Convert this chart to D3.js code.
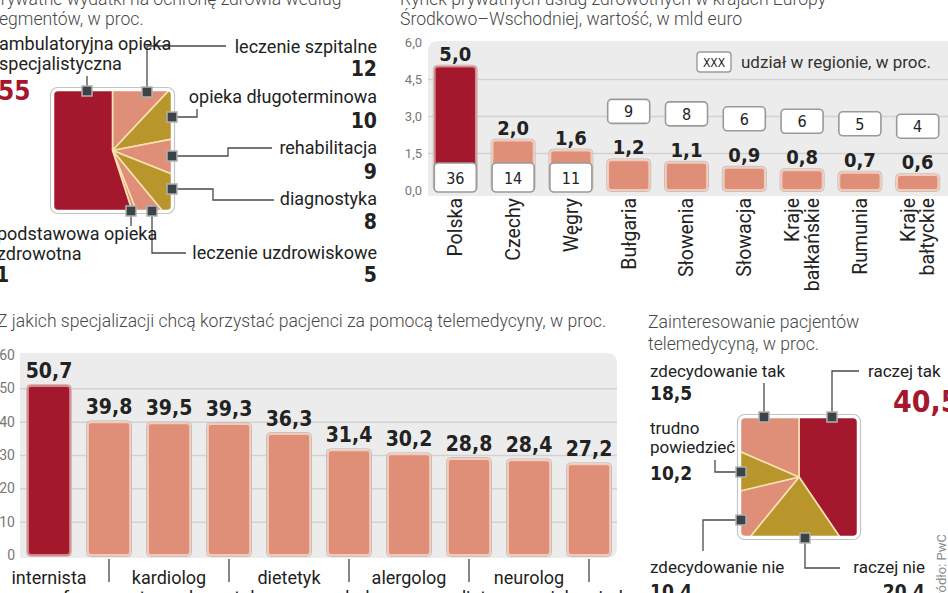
<!DOCTYPE html>
<html><head><meta charset="utf-8">
<script src="https://cdn.jsdelivr.net/npm/d3@7/dist/d3.min.js"></script>
<style>
html,body{margin:0;padding:0;background:#fff;overflow:hidden}
svg{display:block}
.lbl{font-family:Roboto,"Noto Sans",sans-serif;font-size:18px;fill:#222}
.ttl{font-family:Roboto,"Noto Sans",sans-serif;font-size:17.6px;fill:#484848;font-weight:300}
.num{font-family:"DejaVu Sans Condensed","Liberation Sans Narrow",sans-serif;font-weight:bold;fill:#222}
.tick text{font-family:Roboto,sans-serif;font-size:13px;fill:#777}
.cnd{font-family:"DejaVu Sans Condensed","Liberation Sans Narrow",sans-serif;fill:#222}
</style></head><body>
<svg id="c" width="948" height="593"></svg>
<script>
// ---------- DATA ----------
// 1) private health spending by segment (clockwise from 12 o'clock)
const spendTitle = ["Prywatne wydatki na ochronę zdrowia według", "segmentów, w proc."];
const spendSegments = ["leczenie szpitalne", "opieka długoterminowa", "rehabilitacja", "diagnostyka",
  "leczenie uzdrowiskowe", "podstawowa opieka\nzdrowotna", "ambulatoryjna opieka\nspecjalistyczna"];
const spendShares = [12, 10, 9, 8, 5, 1, 55];

// 2) private health market in CEE
const marketTitle = ["Rynek prywatnych usług zdrowotnych w krajach Europy", "Środkowo–Wschodniej, wartość, w mld euro"];
const countries = ["Polska", "Czechy", "Węgry", "Bułgaria", "Słowenia", "Słowacja", "Kraje\nbałkańskie", "Rumunia", "Kraje\nbałtyckie"];
const marketValues = [5.0, 2.0, 1.6, 1.2, 1.1, 0.9, 0.8, 0.7, 0.6];
const regionShares = [36, 14, 11, 9, 8, 6, 6, 5, 4];
const marketTicks = [0, 1.5, 3, 4.5, 6];
const legendText = ["XXX", "udział w regionie, w proc."];

// 3) specialisations for telemedicine
const specTitle = "Z jakich specjalizacji chcą korzystać pacjenci za pomocą telemedycyny, w proc.";
const specialties = ["internista", "farmaceuta", "kardiolog", "dermatolog", "dietetyk", "psycholog", "alergolog", "pediatra", "neurolog", "pielęgniarka"];
const specValues = [50.7, 39.8, 39.5, 39.3, 36.3, 31.4, 30.2, 28.8, 28.4, 27.2];
const specTicks = [0, 10, 20, 30, 40, 50, 60];

// 4) interest in telemedicine (clockwise from 12 o'clock)
const interestTitle = ["Zainteresowanie pacjentów", "telemedycyną, w proc."];
const interestAnswers = ["raczej tak", "raczej nie", "zdecydowanie nie", "trudno\npowiedzieć", "zdecydowanie tak"];
const interestShares = [40.5, 20.4, 10.4, 10.2, 18.5];

const sourceText = "Źródło: PwC";

// ---------- STYLE ----------
const C = {red: "#a3182d", salmon: "#df8e78", olive: "#b8962c"};
const spendColors = ["salmon", "olive", "salmon", "olive", "salmon", "salmon", "red"];
const interestColors = ["red", "olive", "salmon", "olive", "salmon"];

const loc = d3.formatLocale({decimal: ",", thousands: " ", grouping: [3], currency: ["", ""]});
const f1 = loc.format(".1f");
const fi = loc.format("d");

const svg = d3.select("#c");
const defs = svg.append("defs");

function multiline(sel, str, x, ys, anchor, cls, size) {
  const lines = str.split("\n");
  lines.forEach((t, i) => {
    sel.append("text").attr("class", cls || "lbl").attr("x", x).attr("y", ys[i])
      .attr("text-anchor", anchor).style("font-size", size ? size + "px" : null).text(t);
  });
}

// ---------- SQUARE PIES ----------
function squarePie(id, box, values, colorKeys, ann, labels, numFmt) {
  const g = svg.append("g");
  defs.append("clipPath").attr("id", id).append("rect")
    .attr("x", box.x).attr("y", box.y).attr("width", box.w).attr("height", box.h).attr("rx", 5);
  g.append("rect").attr("x", box.x - 2.5).attr("y", box.y - 2.5).attr("width", box.w + 5).attr("height", box.h + 5)
    .attr("rx", 7).attr("fill", "#fff").attr("stroke", "#c4c4c4").attr("stroke-width", 1.2);
  const arcs = d3.pie().sort(null).value(d => d)(values);
  const arc = d3.arc().innerRadius(0).outerRadius(Math.max(box.w, box.h) * 1.5);
  g.append("g").attr("clip-path", `url(#${id})`)
    .append("g").attr("transform", `translate(${box.x + box.w / 2},${box.y + box.h / 2})`)
    .selectAll("path").data(arcs).join("path")
    .attr("d", arc).attr("fill", (d, i) => C[colorKeys[i]])
    .attr("stroke", "#f8e2b2").attr("stroke-width", 1.6).attr("stroke-linejoin", "round");
  g.append("rect").attr("x", box.x).attr("y", box.y).attr("width", box.w).attr("height", box.h)
    .attr("rx", 5).attr("fill", "none").attr("stroke", "#fff").attr("stroke-width", 2.5);
  ann.forEach(a => {
    g.append("path").attr("d", d3.line()(a.path)).attr("fill", "none")
      .attr("stroke", "#4a4a4a").attr("stroke-width", 1.3);
  });
  ann.forEach((a, i) => {
    const [mx, my] = a.path[0];
    g.append("rect").attr("x", mx - 5).attr("y", my - 5).attr("width", 10).attr("height", 10)
      .attr("fill", "#3c4347").attr("stroke", "#aeb1b3").attr("stroke-width", 1.5);
    multiline(g, labels[i], a.tx, a.ty, a.anchor, "lbl", a.ls);
    g.append("text").attr("class", "num").attr("x", a.nx).attr("y", a.ny).attr("text-anchor", a.anchor)
      .style("font-size", a.ns + "px").style("fill", a.red ? C.red : "#222").text(numFmt(values[i]));
  });
}

// titles
multiline(svg, spendTitle.join("\n"), -10, [5, 25], "start", "ttl");
multiline(svg, marketTitle.join("\n"), 400, [5, 25], "start", "ttl");
svg.append("text").attr("class", "ttl").attr("x", -3).attr("y", 327).text(specTitle);
multiline(svg, interestTitle.join("\n"), 648, [328, 350], "start", "ttl");

squarePie("clipA", {x: 53, y: 90, w: 119, h: 121}, spendShares, spendColors, [
  {path: [[147, 92], [147, 46], [226, 46]], tx: 377, ty: [53], anchor: "end", nx: 377, ny: 76, ns: 21},
  {path: [[172, 117], [197, 117], [197, 109]], tx: 377, ty: [103], anchor: "end", nx: 377, ny: 128, ns: 21},
  {path: [[172, 156], [228, 156], [228, 148], [272, 148]], tx: 377, ty: [154], anchor: "end", nx: 377, ny: 179, ns: 21},
  {path: [[172, 189], [213, 189], [213, 200], [274, 200]], tx: 377, ty: [205], anchor: "end", nx: 377, ny: 229, ns: 21},
  {path: [[152, 211], [152, 253], [186, 253]], tx: 377, ty: [259], anchor: "end", nx: 377, ny: 282, ns: 21},
  {path: [[131, 211], [131, 226]], tx: -3, ty: [240, 260], anchor: "start", nx: -4, ny: 282, ns: 21},
  {path: [[87, 91], [87, 76]], tx: -1, ty: [50, 70], anchor: "start", nx: -2, ny: 100, ns: 26, red: true}
], spendSegments, fi);

squarePie("clipB", {x: 740, y: 417, w: 118, h: 120}, interestShares, interestColors, [
  {path: [[832, 417], [832, 371], [859, 371]], tx: 868, ty: [377], anchor: "start", nx: 893, ny: 412, ns: 30, red: true, ls: 17},
  {path: [[805, 538], [805, 568], [840, 568]], tx: 925, ty: [573], anchor: "end", nx: 925, ny: 598, ns: 19, ls: 17},
  {path: [[741, 520], [703, 520], [703, 551]], tx: 650, ty: [573], anchor: "start", nx: 650, ny: 598, ns: 19, ls: 17},
  {path: [[741, 472], [715, 472], [715, 460]], tx: 650, ty: [434, 453], anchor: "start", nx: 650, ny: 480, ns: 19, ls: 17},
  {path: [[764, 417], [764, 383]], tx: 650, ty: [377], anchor: "start", nx: 650, ny: 400, ns: 19, ls: 17}
], interestAnswers, f1);

// ---------- BAR CHART: market ----------
(function () {
  const panel = {x: 428, y: 41, w: 540, h: 155};
  svg.append("path").attr("fill", "#ececec")
    .attr("d", `M${panel.x},${panel.y + panel.h} V${panel.y + 10} Q${panel.x},${panel.y} ${panel.x + 10},${panel.y} H${panel.x + panel.w} V${panel.y + panel.h} Z`);
  const x = d3.scaleBand().domain(countries).range([429, 944]).paddingInner(0.29).paddingOuter(0.1);
  const y = d3.scaleLinear().domain([0, 6]).range([190, 42]);
  const grid = svg.append("g").attr("transform", `translate(${panel.x},0)`)
    .call(d3.axisLeft(y).tickValues(marketTicks.filter(t => t > 0 && t < 6)).tickSize(-panel.w).tickFormat(""));
  grid.select(".domain").remove();
  grid.selectAll("line").attr("stroke", "#d2d2d2").attr("stroke-width", 1.5);
  const ax = svg.append("g").attr("class", "tick").attr("transform", `translate(422,0)`)
    .call(d3.axisLeft(y).tickValues(marketTicks).tickSize(0).tickPadding(0).tickFormat(f1));
  ax.select(".domain").remove();

  const bw = x.bandwidth();
  countries.forEach((c, i) => {
    const v = marketValues[i], x0 = x(c), yt = y(v), yb = y(0);
    svg.append("rect").attr("x", x0 - 1.5).attr("y", yt - 1.5).attr("width", bw + 3).attr("height", yb - yt + 3)
      .attr("rx", 4).attr("fill", "none").attr("stroke", "#c9bfbb").attr("stroke-width", 1);
    svg.append("rect").attr("x", x0).attr("y", yt).attr("width", bw).attr("height", yb - yt)
      .attr("rx", 3).attr("fill", i === 0 ? C.red : C.salmon).attr("stroke", i === 0 ? "#d9858c" : "#f3c9ba").attr("stroke-width", 1.8);
    const inside = i < 3;
    svg.append("text").attr("class", "num").attr("x", x0 + bw / 2).attr("y", yt - 6)
      .attr("text-anchor", "middle").style("font-size", "20px").text(f1(v));
    const bh = inside ? 29 : 24;
    const by = inside ? yb - 27 : yt - 37 - bh;
    svg.append("rect").attr("x", x0 - 0.5).attr("y", by).attr("width", bw + 1).attr("height", bh)
      .attr("rx", 4).attr("fill", "#fff").attr("stroke", "#9a9a9a").attr("stroke-width", 1.6);
    svg.append("text").attr("class", "cnd").attr("x", x0 + bw / 2).attr("y", by + bh / 2 + 6)
      .attr("text-anchor", "middle").style("font-size", "16px").text(regionShares[i]);
    const lines = c.split("\n");
    const t = svg.append("text").attr("class", "lbl").style("font-size", "19.5px")
      .attr("transform", `translate(${x0 + bw / 2},198) rotate(-90)`).attr("text-anchor", "end");
    lines.forEach((ln, k) => {
      t.append("tspan").attr("x", 0).attr("y", 0)
        .attr("dy", (0.35 + (k - (lines.length - 1) / 2) * 1.0) + "em").text(ln);
    });
  });
  svg.append("rect").attr("x", 697).attr("y", 52).attr("width", 34).attr("height", 20).attr("rx", 3)
    .attr("fill", "#fff").attr("stroke", "#9a9a9a").attr("stroke-width", 1.4);
  svg.append("text").attr("class", "cnd").attr("x", 714).attr("y", 67).attr("text-anchor", "middle")
    .style("font-size", "12px").text(legendText[0]);
  svg.append("text").attr("class", "lbl").attr("x", 741).attr("y", 68).style("font-size", "17px").style("fill", "#333").text(legendText[1]);
})();

// ---------- BAR CHART: specialties ----------
(function () {
  const panel = {x: 20, y: 353, w: 597, h: 205};
  const r = 11;
  svg.append("path").attr("fill", "#ececec")
    .attr("d", `M${panel.x},${panel.y} H${panel.x + panel.w - r} Q${panel.x + panel.w},${panel.y} ${panel.x + panel.w},${panel.y + r} V${panel.y + panel.h - r} Q${panel.x + panel.w},${panel.y + panel.h} ${panel.x + panel.w - r},${panel.y + panel.h} H${panel.x} Z`);
  const x = d3.scaleBand().domain(specialties).range([22, 616]).paddingInner(0.3).paddingOuter(0.1);
  const y = d3.scaleLinear().domain([0, 60]).range([555, 355]);
  const grid = svg.append("g").attr("transform", `translate(${panel.x},0)`)
    .call(d3.axisLeft(y).tickValues(specTicks.filter(t => t > 0 && t < 60)).tickSize(-panel.w).tickFormat(""));
  grid.select(".domain").remove();
  grid.selectAll("line").attr("stroke", "#d2d2d2").attr("stroke-width", 1.5);
  const ax = svg.append("g").attr("class", "tick").attr("transform", `translate(15,0)`)
    .call(d3.axisLeft(y).tickValues(specTicks).tickSize(0).tickPadding(0).tickFormat(fi));
  ax.select(".domain").remove();
  ax.selectAll("text").style("font-size", "14px");

  const bw = x.bandwidth();
  specialties.forEach((s, i) => {
    const v = specValues[i], x0 = x(s), yt = y(v), yb = y(0);
    svg.append("rect").attr("x", x0 - 1.5).attr("y", yt - 1.5).attr("width", bw + 3).attr("height", yb - yt + 3)
      .attr("rx", 4).attr("fill", "none").attr("stroke", "#c9bfbb").attr("stroke-width", 1);
    svg.append("rect").attr("x", x0).attr("y", yt).attr("width", bw).attr("height", yb - yt)
      .attr("rx", 3).attr("fill", i === 0 ? C.red : C.salmon).attr("stroke", i === 0 ? "#d9858c" : "#f3c9ba").attr("stroke-width", 1.8);
    svg.append("text").attr("class", "num").attr("x", x0 + bw / 2).attr("y", yt - 8)
      .attr("text-anchor", "middle").style("font-size", "21px").text(f1(v));
    const cx = x0 + bw / 2;
    if (i % 2 === 1) {
      svg.append("line").attr("x1", cx).attr("x2", cx).attr("y1", 559).attr("y2", 582)
        .attr("stroke", "#444").attr("stroke-width", 1.3);
    }
    svg.append("text").attr("class", "lbl").attr("x", cx).attr("y", i % 2 === 0 ? 584 : 604)
      .attr("text-anchor", "middle").text(s);
  });
})();

// source
svg.append("text").attr("transform", "translate(946,534) rotate(-90)").attr("text-anchor", "end")
  .style("font-family", "Roboto,sans-serif").style("font-size", "13px").style("fill", "#888").text(sourceText);
</script>
</body></html>
